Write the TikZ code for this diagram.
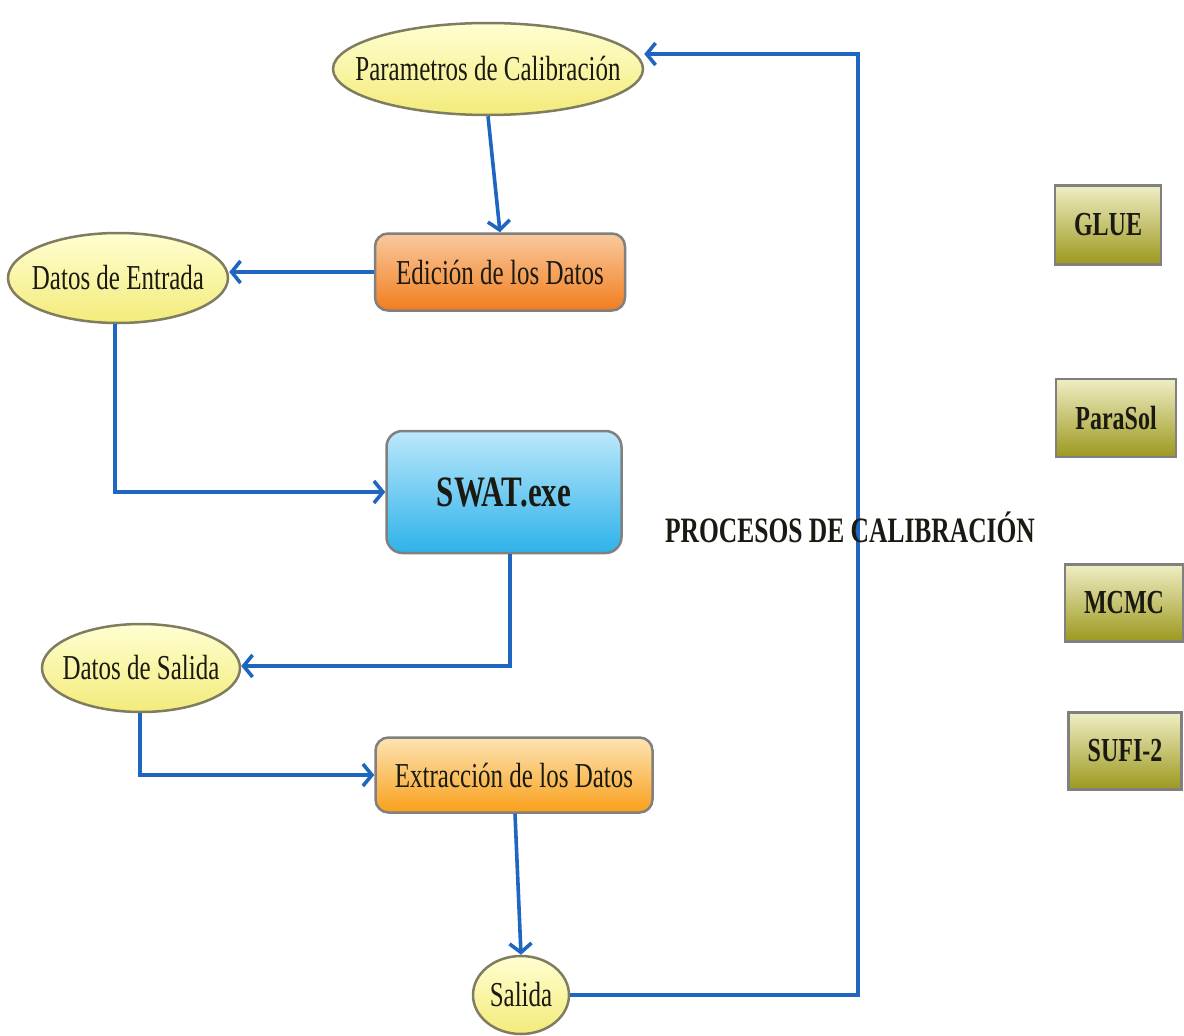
\documentclass[tikz,border=0pt]{standalone}
\usepackage{fontspec}
\setmainfont{Liberation Serif}
\usepackage{graphicx}
\usetikzlibrary{shapes.geometric,arrows.meta}
\definecolor{ylwtop}{HTML}{FFFFD2}
\definecolor{ylwbot}{HTML}{F3EB7A}
\definecolor{ellline}{HTML}{7F7C60}
\definecolor{orgAtop}{HTML}{F9C99E}
\definecolor{orgAbot}{HTML}{F27E1E}
\definecolor{orgBtop}{HTML}{FDE4B4}
\definecolor{orgBbot}{HTML}{F9A01A}
\definecolor{bluetop}{HTML}{BCE8FB}
\definecolor{bluebot}{HTML}{2DB2EA}
\definecolor{olvtop}{HTML}{EFEEC4}
\definecolor{olvbot}{HTML}{9C981E}
\definecolor{boxline}{HTML}{808080}
\definecolor{arrblue}{HTML}{1F66C1}
\definecolor{txt}{HTML}{1A1A12}
\newcommand{\vstr}[1]{\scalebox{1}[1.4]{#1}}
\newcommand{\ztxt}[1]{\makebox[0pt]{\vstr{#1}}}
\begin{document}
\begin{tikzpicture}[x=1pt,y=-1pt,
  lbl/.style={font=\fontsize{25}{30}\selectfont, text=txt},
  ell/.style={ellipse, draw=ellline, line width=2.5pt, top color=ylwtop, bottom color=ylwbot, inner sep=0pt, lbl},
  procbox/.style={rectangle, rounded corners=13pt, draw=boxline, line width=2.5pt, inner sep=0pt, lbl},
  olvbox/.style={rectangle, draw=boxline, line width=2.5pt, top color=olvtop, bottom color=olvbot, inner sep=0pt, font=\bfseries\fontsize{24}{28}\selectfont, text=txt},
  arr/.style={draw=arrblue, line width=3.6pt, -{Straight Barb[length=9pt,width=22pt]}}
]
\useasboundingbox (0,0) rectangle (1184,1036);
\fill[white] (0,0) rectangle (1184,1036);

% nodes
\node[ell, minimum width=310pt, minimum height=92pt] (param) at (488,69) {\ztxt{Parametros de Calibración}};
\node[procbox, top color=orgAtop, bottom color=orgAbot, minimum width=250pt, minimum height=77pt] (edicion) at (500,272) {\vstr{Edición de los Datos}};
\node[ell, minimum width=220pt, minimum height=90pt] (entrada) at (118,278) {\ztxt{Datos de Entrada}};
\node[procbox, rounded corners=16pt, top color=bluetop, bottom color=bluebot, minimum width=235pt, minimum height=122pt, font=\bfseries\fontsize{31}{36}\selectfont, text=txt] (swat) at (504,492) {\vstr{SWAT.exe}};
\node[ell, minimum width=198pt, minimum height=88pt] (dsalida) at (141,668) {\ztxt{Datos de Salida}};
\node[procbox, top color=orgBtop, bottom color=orgBbot, minimum width=277pt, minimum height=75pt] (extr) at (514,775) {\vstr{Extracción de los Datos}};
\node[ell, minimum width=96pt, minimum height=78pt] (salida) at (521,995) {\ztxt{Salida}};

\node[olvbox, minimum width=106pt, minimum height=79pt] (glue) at (1108,225) {\vstr{GLUE}};
\node[olvbox, minimum width=120pt, minimum height=78pt] (parasol) at (1116,418) {\vstr{ParaSol}};
\node[olvbox, minimum width=118pt, minimum height=77pt] (mcmc) at (1124,603) {\vstr{MCMC}};
\node[olvbox, minimum width=113pt, minimum height=77pt] (sufi) at (1125,751) {\vstr{SUFI-2}};

% connectors
\draw[arr] (param.south) -- (edicion.north);
\draw[arr] (edicion.west) -- (edicion.west -| entrada.east);
\draw[arr] ([xshift=-3pt]entrada.south) |- (swat.west);
\draw[arr] ([xshift=6pt]swat.south) |- ([yshift=2pt]dsalida.east);
\draw[arr] ([xshift=-1pt]dsalida.south) |- (extr.west);
\draw[arr] ([xshift=1pt]extr.south) -- (salida.north);
\coordinate (cbot) at (858,995);
\coordinate (ctop) at (858,54);
\draw[arr] (salida.east) -- (cbot) -- (ctop) -- (ctop -| param.east);

\node[font=\bfseries\fontsize{25.5}{30}\selectfont, text=txt] (procesos) at (850,527) {\vstr{PROCESOS DE CALIBRACIÓN}};
\end{tikzpicture}
\end{document}
